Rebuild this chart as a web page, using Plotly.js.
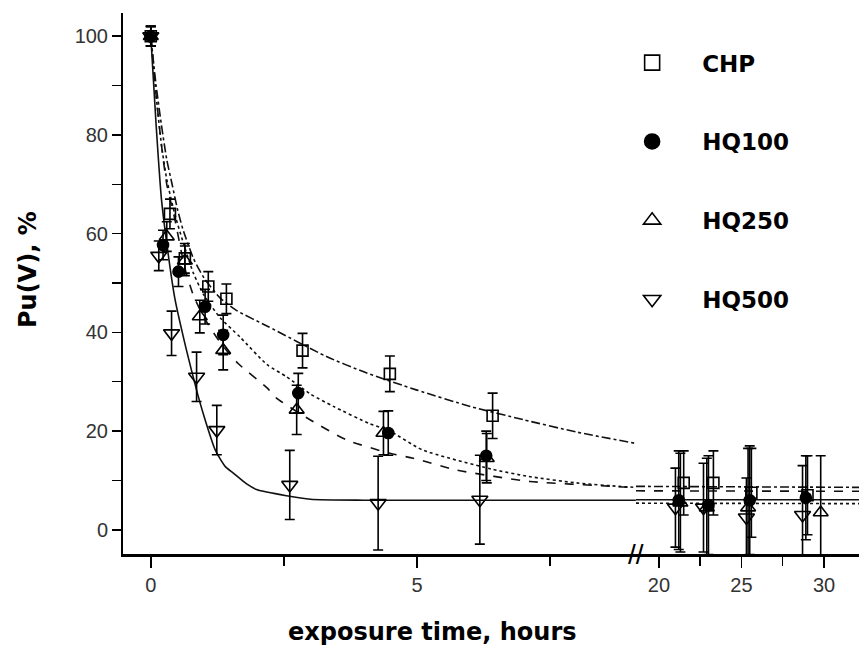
<!DOCTYPE html>
<html>
<head>
<meta charset="utf-8">
<script src="https://cdn.plot.ly/plotly-3.0.1.min.js"></script>
<style>html,body{margin:0;padding:0;background:#fff;}#chart{width:859px;height:647px;}</style>
</head>
<body>
<div id="chart"></div>
<script>
// ---- data ----
const seriesNames = ['CHP', 'HQ100', 'HQ250', 'HQ500'];

// early segment (0 - 9 h)
const chpX   = [0, 0.36, 0.64, 1.08, 1.42, 2.85, 4.49, 6.42];
const chpY   = [100, 64, 55, 49.3, 46.8, 36.3, 31.6, 23.1];
const chpErr = [2, 3, 3, 3, 3, 3.5, 3.6, 4.6];

const hq100X   = [0, 0.23, 0.52, 1.02, 1.36, 2.77, 4.46, 6.3];
const hq100Y   = [100, 57.7, 52.3, 45.2, 39.5, 27.7, 19.6, 15];
const hq100Err = [2, 3, 3, 3.5, 4, 4, 4.5, 5];

const hq250X   = [0, 0.3, 0.64, 0.92, 1.36, 2.74, 4.37, 6.31];
const hq250Y   = [100, 59.4, 54.5, 43.2, 36.4, 24.3, 19.6, 14.5];
const hq250Err = [2, 3, 3, 3.3, 4, 5, 4.4, 5];

const hq500X   = [0, 0.15, 0.39, 0.86, 1.24, 2.61, 4.27, 6.18];
const hq500Y   = [100, 55.5, 39.8, 31, 20.2, 9.1, 5.4, 6.1];
const hq500Err = [2, 3, 4.5, 5, 5, 7, 9.5, 9];

// late segment (20 - 30 h)
const chpX2   = [21.5, 23.3, 25.6, 29.0];
const chpY2   = [9.5, 9.5, 7.5, 7];
const chpErr2 = [6.5, 6.5, 9, 8];

const hq100X2   = [21.2, 23.0, 25.5, 28.9];
const hq100Y2   = [6, 5, 6, 6.5];
const hq100Err2 = [10, 10, 11, 8.5];

const hq250X2   = [21.3, 22.9, 25.4, 29.8];
const hq250Y2   = [5.5, 4.5, 4.5, 3.5];
const hq250Err2 = [10, 10, 12, 11.5];

const hq500X2   = [21.0, 22.7, 25.3, 28.7];
const hq500Y2   = [4.5, 4.5, 2.5, 3];
const hq500Err2 = [8, 9, 8, 10];

// fitted curves
const chpFitX = [0, 0.1, 0.2, 0.3, 0.4, 0.5, 0.6, 0.8, 1.0, 1.3, 1.6, 2.2, 3.3, 4.0, 5.0, 6.0, 7.0, 8.0, 9.11];
const chpFitY = [100, 90, 82, 75, 70, 65, 61, 55, 51, 47, 44.5, 41.2, 35.1, 32, 28.3, 25, 22.3, 19.8, 17.5];
const hq100FitX = [0, 0.1, 0.2, 0.3, 0.45, 0.6, 0.8, 1.0, 1.3, 1.68, 2.18, 2.55, 3.0, 3.43, 4.11, 4.49, 5.1, 6.4, 7.1, 8.0, 8.8, 9.11];
const hq100FitY = [100, 88, 78, 71, 64, 58.5, 52, 47.5, 43, 39, 33.5, 31, 27.5, 25, 21.5, 20, 16.2, 12.3, 10.8, 9.5, 8.8, 8.6];
const hq250FitX = [0, 0.1, 0.2, 0.3, 0.45, 0.64, 0.8, 1.0, 1.3, 1.64, 2.19, 2.36, 2.99, 3.68, 4.49, 4.93, 5.75, 7.12, 8.69, 9.11];
const hq250FitY = [100, 88, 78, 70, 63, 53, 47.5, 43, 38, 33.7, 28.7, 26.7, 22.3, 18.2, 15.5, 14.5, 12.1, 9.8, 8.8, 8.5];
const hq500FitX = [0, 0.1, 0.2, 0.3, 0.45, 0.67, 0.86, 1.0, 1.21, 1.4, 1.55, 1.8, 2.0, 2.55, 3.0, 4.0, 9.11];
const hq500FitY = [100, 82, 67, 58, 47, 36.4, 28.3, 23, 16.2, 12.8, 11.5, 9.3, 8.1, 6.9, 6.2, 6.0, 6.0];

const fitX2 = [18.61, 32.12];
const chpFitY2   = [8.8, 8.6];
const hq100FitY2 = [5.4, 5.3];
const hq250FitY2 = [7.9, 7.8];
const hq500FitY2 = [6.1, 6.1];

const xTicks1 = [0, 5];
const xTicks2 = [20, 25, 30];
const yTicks = [0, 20, 40, 60, 80, 100];

// ---- styling ----
const lineStyles = {CHP: 'dashdot', HQ100: 'dot', HQ250: 'dash', HQ500: 'solid'};
const markerStyles = {
  CHP:   {symbol: 'square-open', size: 11},
  HQ100: {symbol: 'circle', size: 11},
  HQ250: {symbol: 'triangle-up-open', size: 13},
  HQ500: {symbol: 'triangle-down-open', size: 14}
};

const traces = [];
function fit(name, x, y, xa) {
  traces.push({x: x, y: y, xaxis: xa, yaxis: 'y', mode: 'lines', showlegend: false, hoverinfo: 'skip',
    line: {color: '#111', width: 1.6, dash: lineStyles[name], shape: 'spline', smoothing: 0.6}});
}
function pts(name, x, y, err, xa) {
  const m = markerStyles[name];
  traces.push({x: x, y: y, xaxis: xa, yaxis: 'y', mode: 'markers', showlegend: false, name: name,
    marker: {symbol: m.symbol, size: m.size, color: 'black', line: {color: 'black', width: 1.6}},
    error_y: {type: 'data', array: err, visible: true, color: 'black', thickness: 1.6, width: 5}});
}
fit('CHP', chpFitX, chpFitY, 'x');
fit('HQ100', hq100FitX, hq100FitY, 'x');
fit('HQ250', hq250FitX, hq250FitY, 'x');
fit('HQ500', hq500FitX, hq500FitY, 'x');
fit('CHP', fitX2, chpFitY2, 'x2');
fit('HQ100', fitX2, hq100FitY2, 'x2');
fit('HQ250', fitX2, hq250FitY2, 'x2');
fit('HQ500', fitX2, hq500FitY2, 'x2');

pts('CHP', chpX, chpY, chpErr, 'x');
pts('HQ100', hq100X, hq100Y, hq100Err, 'x');
pts('HQ250', hq250X, hq250Y, hq250Err, 'x');
pts('HQ500', hq500X, hq500Y, hq500Err, 'x');
pts('CHP', chpX2, chpY2, chpErr2, 'x2');
pts('HQ100', hq100X2, hq100Y2, hq100Err2, 'x2');
pts('HQ250', hq250X2, hq250Y2, hq250Err2, 'x2');
pts('HQ500', hq500X2, hq500Y2, hq500Err2, 'x2');

// legend entries
seriesNames.forEach(function (n) {
  const m = markerStyles[n];
  traces.push({x: [null], y: [null], mode: 'markers', name: '<b>' + n + '</b>', legendgroup: n, showlegend: true,
    marker: {symbol: m.symbol, size: 15, color: 'black', line: {color: 'black', width: 1.6}}});
});

const tickFont = {family: 'Liberation Sans, Arial, sans-serif', size: 20, color: '#333'};
const axBase = {
  showline: true, linecolor: 'black', showgrid: false, zeroline: false,
  ticks: 'outside', ticklen: 11, tickwidth: 1.5, tickcolor: 'black', tickfont: tickFont
};

const layout = {
  width: 859, height: 647,
  margin: {l: 123, r: 0, t: 13, b: 93},
  paper_bgcolor: 'white', plot_bgcolor: 'white',
  showlegend: true,
  legend: {x: 0.651, xanchor: 'left', y: 0.948, yanchor: 'top', bgcolor: 'rgba(0,0,0,0)',
    font: {family: 'DejaVu Sans, Verdana, sans-serif', size: 23, color: 'black'},
    tracegroupgap: 46, itemwidth: 90, traceorder: 'grouped'},
  xaxis: Object.assign({}, axBase, {domain: [0, 0.697], range: [-0.522, 9.113], anchor: 'y',
    tickvals: xTicks1, linewidth: 3,
    minor: {tickvals: [2.5, 7.5], ticks: 'outside', ticklen: 9, tickwidth: 1.5, tickcolor: 'black'}}),
  xaxis2: Object.assign({}, axBase, {domain: [0.697, 1], range: [18.61, 32.12], anchor: 'y',
    tickvals: xTicks2, linewidth: 3,
    minor: {tickvals: [22.5, 27.5], ticks: 'outside', ticklen: 9, tickwidth: 1.5, tickcolor: 'black'}}),
  yaxis: Object.assign({}, axBase, {domain: [0, 1], range: [-4.9, 104.7], tickvals: yTicks, linewidth: 2,
    ticklen: 9, ticklabelstandoff: 0,
    minor: {dtick: 10, ticks: 'outside', ticklen: 9, tickwidth: 1.5, tickcolor: 'black'}}),
  annotations: [
    {text: '<b>exposure time, hours</b>', xref: 'paper', yref: 'paper', x: 0.42, y: -0.144,
     xanchor: 'center', yanchor: 'middle', showarrow: false,
     font: {family: 'DejaVu Sans, Verdana, sans-serif', size: 24, color: 'black'}},
    {text: '<b>Pu(V), %</b>', xref: 'paper', yref: 'paper', x: -0.129, y: 0.525, textangle: -90,
     xanchor: 'center', yanchor: 'middle', showarrow: false,
     font: {family: 'DejaVu Sans, Verdana, sans-serif', size: 24, color: 'black'}},
    {text: '//', xref: 'paper', yref: 'paper', x: 0.697, y: 0, xanchor: 'center', yanchor: 'middle',
     showarrow: false, font: {family: 'Liberation Sans, Arial, sans-serif', size: 28, color: 'black'}}
  ]
};

Plotly.newPlot('chart', traces, layout, {displayModeBar: false, staticPlot: true});
</script>
</body>
</html>
